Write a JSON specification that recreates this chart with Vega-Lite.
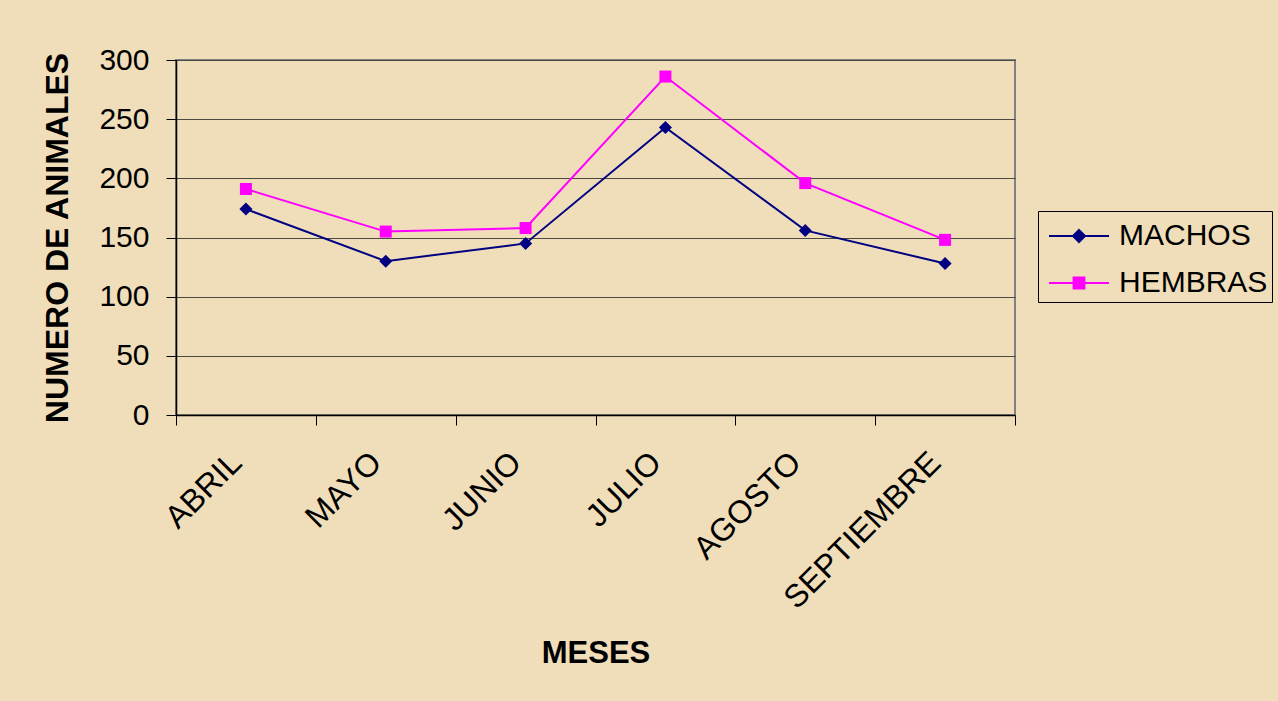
{
  "$schema": "https://vega.github.io/schema/vega-lite/v6.json",
  "autosize": {"type": "none"},
  "width": 839,
  "height": 355,
  "padding": {"left": 176, "top": 60, "right": 263, "bottom": 286},
  "background": "#F0DEBA",
  "config": {
    "font": "Liberation Sans",
    "view": {"stroke": "#808080", "strokeWidth": 2},
    "axis": {"labelColor": "black", "titleColor": "black", "labelFont": "Liberation Sans", "titleFont": "Liberation Sans"}
  },
  "data": {
    "values": [
      {"mes": "ABRIL", "sexo": "MACHOS", "valor": 174},
      {"mes": "MAYO", "sexo": "MACHOS", "valor": 130},
      {"mes": "JUNIO", "sexo": "MACHOS", "valor": 145},
      {"mes": "JULIO", "sexo": "MACHOS", "valor": 243},
      {"mes": "AGOSTO", "sexo": "MACHOS", "valor": 156},
      {"mes": "SEPTIEMBRE", "sexo": "MACHOS", "valor": 128},
      {"mes": "ABRIL", "sexo": "HEMBRAS", "valor": 191},
      {"mes": "MAYO", "sexo": "HEMBRAS", "valor": 155},
      {"mes": "JUNIO", "sexo": "HEMBRAS", "valor": 158},
      {"mes": "JULIO", "sexo": "HEMBRAS", "valor": 286},
      {"mes": "AGOSTO", "sexo": "HEMBRAS", "valor": 196},
      {"mes": "SEPTIEMBRE", "sexo": "HEMBRAS", "valor": 148}
    ]
  },
  "encoding": {
    "x": {
      "field": "mes", "type": "nominal", "bandPosition": 0.5,
      "sort": ["ABRIL", "MAYO", "JUNIO", "JULIO", "AGOSTO", "SEPTIEMBRE"],
      "scale": {"type": "band", "paddingInner": 0, "paddingOuter": 0},
      "axis": {
        "title": "MESES", "titleFontSize": 31, "titleFontWeight": "bold", "titlePadding": 24,
        "labelAngle": -45, "labelAlign": "right", "labelBaseline": "middle", "labelFontSize": 32,
        "labelPadding": 32, "labelOffset": -10, "labelLimit": 0, "tickBand": "extent", "tickSize": 10, "tickColor": "black",
        "domainColor": "black", "domainWidth": 1.5, "grid": false
      }
    },
    "y": {
      "field": "valor", "type": "quantitative",
      "scale": {"domain": [0, 300], "nice": false},
      "axis": {
        "title": "NUMERO DE ANIMALES", "titleFontSize": 32, "titleFontWeight": "bold", "titlePadding": 24,
        "values": [0, 50, 100, 150, 200, 250, 300], "labelFontSize": 30, "labelPadding": 17,
        "tickSize": 10, "tickColor": "black", "domainColor": "black", "domainWidth": 1.5,
        "grid": true, "gridColor": "#4a4a40", "gridWidth": 1
      }
    },
    "color": {
      "field": "sexo", "type": "nominal",
      "scale": {"domain": ["MACHOS", "HEMBRAS"], "range": ["#000080", "#FF00FF"]},
      "legend": {
        "title": null, "orient": "none", "legendX": 862, "legendY": 151,
        "strokeColor": "black", "padding": 4, "labelFontSize": 30, "labelFont": "Liberation Sans",
        "labelColor": "black", "symbolSize": 1600, "labelOffset": 35, "rowPadding": 11,
        "symbolStrokeWidth": 2,
        "encode": {
          "symbols": {
            "update": {
              "shape": {"signal": "datum.value === 'MACHOS' ? 'M-0.7,0H2.3M0.8,-0.3L1.1,0L0.8,0.3L0.5,0Z' : 'M-0.7,0H2.3M0.53,-0.27H1.07V0.27H0.53Z'"},
              "stroke": {"signal": "datum.value === 'MACHOS' ? '#000080' : '#FF00FF'"},
              "fill": {"signal": "datum.value === 'MACHOS' ? '#000080' : '#FF00FF'"},
              "strokeWidth": {"value": 2},
              "size": {"value": 1600},
              "opacity": {"value": 1}
            }
          }
        }
      }
    }
  },
  "layer": [
    {"mark": {"type": "line", "strokeWidth": 2}},
    {
      "transform": [{"filter": "datum.sexo === 'MACHOS'"}],
      "mark": {"type": "point", "filled": true, "opacity": 1, "shape": "diamond", "size": 170}
    },
    {
      "transform": [{"filter": "datum.sexo === 'HEMBRAS'"}],
      "mark": {"type": "point", "filled": true, "opacity": 1, "shape": "square", "size": 144}
    }
  ]
}
